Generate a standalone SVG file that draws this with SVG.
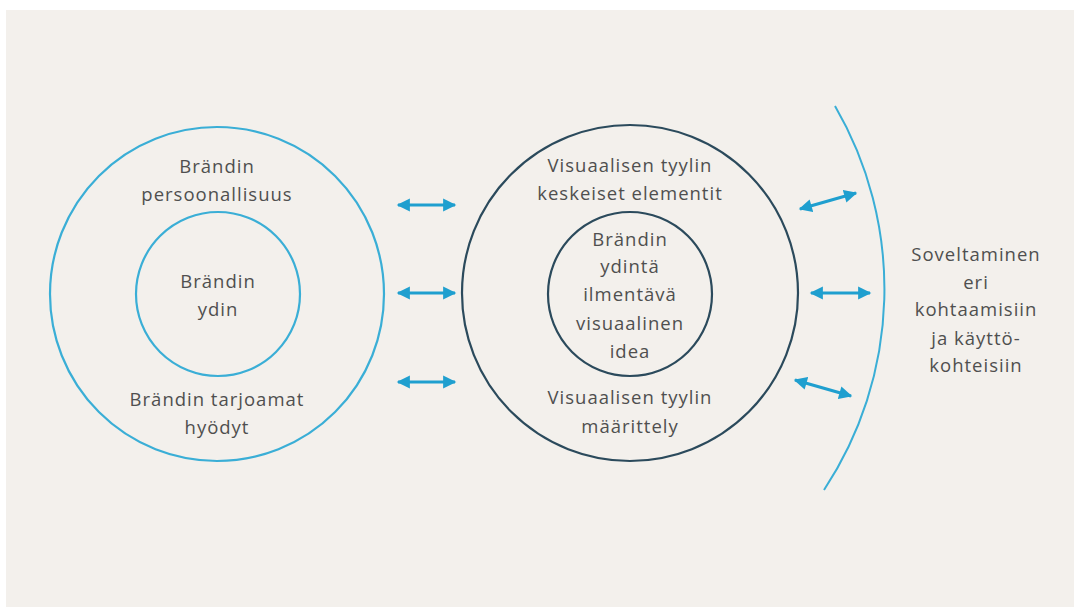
<svg xmlns="http://www.w3.org/2000/svg" width="1074" height="607" viewBox="0 0 1074 607">
<defs>
<style>
.bg{fill:#f3f0ec}
.lc{fill:none;stroke:#3aaed6;stroke-width:2.2}
.dc{fill:none;stroke:#2b4a5c;stroke-width:2.2}
.ar{fill:none;stroke:#3aaed6;stroke-width:2}
.cn{stroke:#1f9fcf;stroke-width:3;marker-start:url(#ah);marker-end:url(#ah)}
text{font-family:"Open Sans","Liberation Sans",sans-serif;font-size:18.5px;fill:#4f4f4f;text-anchor:middle;letter-spacing:1px}
</style>
<marker id="ah" viewBox="0 0 10 10" refX="9" refY="5" markerWidth="4.6" markerHeight="4.4" orient="auto-start-reverse" markerUnits="strokeWidth">
<path d="M0,0 L10,5 L0,10 Z" fill="#1f9fcf"/>
</marker>
</defs>
<rect x="0" y="0" width="1074" height="607" fill="#ffffff"/>
<rect class="bg" x="6" y="10" width="1068" height="597"/>

<g id="left-outer">
<circle class="lc" cx="217" cy="294" r="167"/>
<text x="217" y="173">Brändin</text>
<text x="217" y="201">persoonallisuus</text>
<text x="217" y="406">Brändin tarjoamat</text>
<text x="217" y="434">hyödyt</text>
</g>
<g id="left-inner">
<circle class="lc" cx="218" cy="294" r="82"/>
<text x="218" y="288">Brändin</text>
<text x="218" y="316">ydin</text>
</g>

<g id="mid-outer">
<circle class="dc" cx="630" cy="293" r="168"/>
<text x="630" y="172">Visuaalisen tyylin</text>
<text x="630" y="200">keskeiset elementit</text>
<text x="630" y="404">Visuaalisen tyylin</text>
<text x="630" y="433">määrittely</text>
</g>
<g id="mid-inner">
<circle class="dc" cx="630" cy="294" r="82"/>
<text x="630" y="246">Brändin</text>
<text x="630" y="273">ydintä</text>
<text x="630" y="301">ilmentävä</text>
<text x="630" y="330">visuaalinen</text>
<text x="630" y="358">idea</text>
</g>

<g id="application">
<path class="ar" d="M835 106 A364 364 0 0 1 824 490"/>
<text x="976" y="261">Soveltaminen</text>
<text x="976" y="289">eri</text>
<text x="976" y="316">kohtaamisiin</text>
<text x="976" y="345">ja käyttö-</text>
<text x="976" y="372">kohteisiin</text>
</g>

<g id="connectors">
<line class="cn" x1="398" y1="205" x2="455" y2="205"/>
<line class="cn" x1="398" y1="293" x2="455" y2="293"/>
<line class="cn" x1="398" y1="382" x2="455" y2="382"/>
<line class="cn" x1="800" y1="209" x2="856" y2="193"/>
<line class="cn" x1="811" y1="293" x2="870" y2="293"/>
<line class="cn" x1="795" y1="380" x2="851" y2="396"/>
</g>
</svg>
